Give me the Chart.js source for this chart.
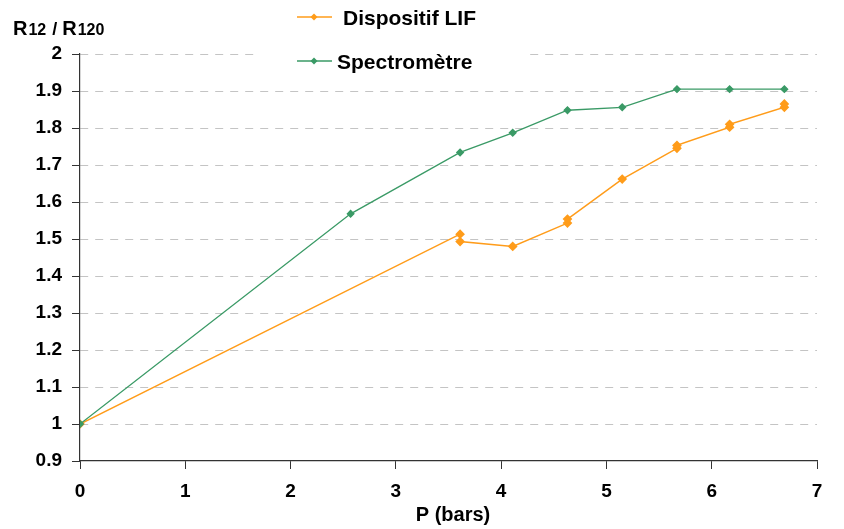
<!DOCTYPE html>
<html>
<head>
<meta charset="utf-8">
<script src="https://cdn.jsdelivr.net/npm/chart.js@4/dist/chart.umd.min.js"></script>
<style>
  html, body { margin: 0; padding: 0; background: #fff; }
  #wrap { width: 844px; height: 529px; }
</style>
</head>
<body>
<div id="wrap"><canvas id="myChart" width="844" height="529"></canvas></div>
<script>
// data (x as the points sit against the axis ticks)
const lifP = [0, 3.61, 3.61, 4.11, 4.63, 4.63, 5.15, 5.67, 5.67, 6.17, 6.17, 6.69, 6.69];
const lifR = [1.0, 1.513, 1.493, 1.480, 1.543, 1.554, 1.662, 1.745, 1.753, 1.802, 1.81, 1.856, 1.865];
const specP = [0, 2.57, 3.61, 4.11, 4.63, 5.15, 5.67, 6.17, 6.69];
const specR = [1.0, 1.568, 1.734, 1.787, 1.848, 1.856, 1.905, 1.905, 1.905];
const seriesNames = ['Dispositif LIF', 'Spectromètre'];
const xTicks = [0, 1, 2, 3, 4, 5, 6, 7];
const yTicks = [0.9, 1, 1.1, 1.2, 1.3, 1.4, 1.5, 1.6, 1.7, 1.8, 1.9, 2];

const orange = '#ff9c1a';
const green = '#3a9a66';
const font = 'Liberation Sans, Arial, sans-serif';

const toPts = (xs, ys) => xs.map((x, i) => ({x: x, y: ys[i]}));

// white box behind the legend, then legend and axis titles
const decorations = {
  id: 'decorations',
  beforeDatasetsDraw(chart) {
    const ctx = chart.ctx;
    ctx.save();
    ctx.fillStyle = '#fff';
    ctx.fillRect(255, 0, 270, 76);
    ctx.restore();
  },
  afterDraw(chart) {
    const ctx = chart.ctx;
    ctx.save();
    // legend
    const items = [
      {name: seriesNames[0], color: orange, y: 17, tx: 343},
      {name: seriesNames[1], color: green, y: 61, tx: 337}
    ];
    items.forEach(it => {
      ctx.strokeStyle = it.color;
      ctx.lineWidth = 1.5;
      ctx.beginPath();
      ctx.moveTo(297, it.y);
      ctx.lineTo(332, it.y);
      ctx.stroke();
      ctx.fillStyle = it.color;
      ctx.beginPath();
      ctx.moveTo(314, it.y - 3.5);
      ctx.lineTo(317.5, it.y);
      ctx.lineTo(314, it.y + 3.5);
      ctx.lineTo(310.5, it.y);
      ctx.closePath();
      ctx.fill();
      ctx.fillStyle = '#000';
      ctx.font = 'bold 21px ' + font;
      ctx.textBaseline = 'alphabetic';
      ctx.textAlign = 'left';
      ctx.fillText(it.name, it.tx, it.y + 8);
    });
    // y axis title R12 / R120
    let x = 13;
    const base = 35;
    const parts = [['R', 20, 1], ['12', 16, 1], [' / ', 18, 0], ['R', 20, 1], ['120', 16, 0]];
    parts.forEach(p => {
      ctx.font = 'bold ' + p[1] + 'px ' + font;
      ctx.fillText(p[0], x, base);
      x += ctx.measureText(p[0]).width + p[2];
    });
    // x axis title
    ctx.font = 'bold 20px ' + font;
    ctx.textAlign = 'center';
    ctx.fillText('P (bars)', 453, 521);
    ctx.restore();
  }
};

const config = {
  type: 'scatter',
  data: {
    datasets: [{
      label: seriesNames[1],
      data: toPts(specP, specR),
      showLine: true,
      borderColor: green,
      backgroundColor: green,
      borderWidth: 1.3,
      pointStyle: 'rectRot',
      pointRadius: 3.3,
      pointHoverRadius: 3.3,
      order: 1
    }, {
      label: seriesNames[0],
      data: toPts(lifP, lifR),
      showLine: true,
      borderColor: orange,
      backgroundColor: orange,
      borderWidth: 1.5,
      pointStyle: 'rectRot',
      pointRadius: 3.8,
      pointHoverRadius: 3.8,
      order: 2
    }]
  },
  options: {
    responsive: false,
    animation: false,
    layout: { padding: { top: 54, right: 27, left: 0, bottom: 0 } },
    plugins: {
      legend: { display: false },
      tooltip: { enabled: false }
    },
    scales: {
      x: {
        type: 'linear',
        min: 0,
        max: 7,
        afterFit: s => { s.height = 68; },
        afterBuildTicks: s => { s.ticks = xTicks.map(v => ({value: v})); },
        ticks: {
          color: '#000',
          font: { family: font, size: 19, weight: 'bold' },
          padding: 11,
          callback: v => String(v)
        },
        grid: {
          drawOnChartArea: false,
          drawTicks: true,
          tickLength: 8,
          tickColor: '#333',
          tickWidth: 1
        },
        border: { color: '#333', width: 1.2, z: 1 }
      },
      y: {
        type: 'linear',
        min: 0.9,
        max: 2,
        afterFit: s => { s.width = 80; },
        afterBuildTicks: s => { s.ticks = yTicks.map(v => ({value: v})); },
        ticks: {
          color: '#000',
          font: { family: font, size: 19, weight: 'bold' },
          padding: 10,
          callback: v => String(Number(v.toFixed(1)))
        },
        grid: {
          color: ctx => (ctx.tick && ctx.tick.value < 0.95) ? 'rgba(0,0,0,0)' : '#c4c4c4',
          lineWidth: 1,
          drawTicks: true,
          tickLength: 8,
          tickColor: '#333',
          tickWidth: 1
        },
        border: { color: '#333', width: 1.2, dash: [8, 7] }
      }
    }
  },
  plugins: [decorations]
};

const myChart = new Chart(document.getElementById('myChart'), config);
</script>
</body>
</html>
